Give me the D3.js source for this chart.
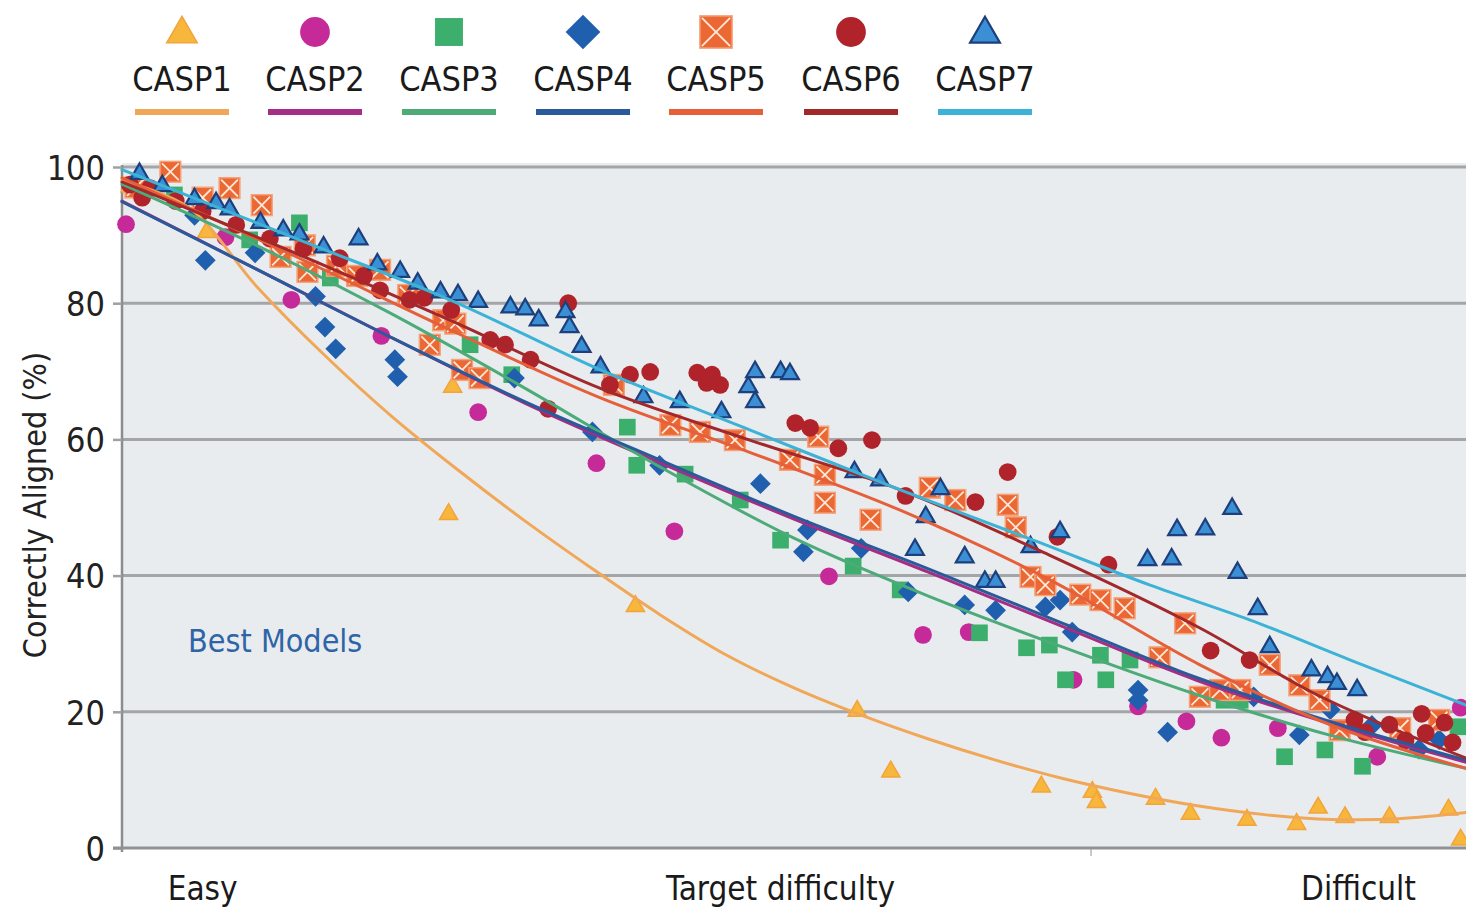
<!DOCTYPE html>
<html><head><meta charset="utf-8">
<script src="https://cdn.jsdelivr.net/npm/d3@7"></script>
<style>
html,body{margin:0;padding:0;background:#fff;}
text{font-family:"Liberation Sans Narrow","DejaVu Sans Condensed",sans-serif;}
</style></head>
<body><svg id="chart" width="1466" height="910"></svg>
<script>
// ---- DATA (x = target difficulty 0..100, y = % correctly aligned) ----
const seriesNames = ["CASP1","CASP2","CASP3","CASP4","CASP5","CASP6","CASP7"];
const yTicks = [0,20,40,60,80,100];
const xLabels = ["Easy","Target difficulty","Difficult"];
const xLabelPos = [6,49,92];

const casp1Points = [[0.6,97.4],[6.3,90.7],[24.6,68],[24.3,49.3],[38.2,35.8],[54.7,20.4],[57.2,11.5],[68.4,9.3],[72.2,8.5],[72.5,7],[76.9,7.5],[79.5,5.3],[83.7,4.4],[87.4,3.8],[89,6.2],[91,4.8],[94.3,4.8],[98.7,5.9],[99.6,1.5]];
const casp2Points = [[0.3,91.6],[7.7,89.7],[12.6,80.5],[19.3,75.2],[26.5,64],[35.3,56.5],[41.1,46.5],[52.6,39.9],[59.6,31.3],[63,31.7],[70.8,24.7],[75.6,20.8],[79.2,18.6],[81.8,16.2],[86,17.6],[93.4,13.4],[99.6,20.6]];
const casp3Points = [[3.9,95.9],[9.5,89.3],[13.2,91.8],[15.5,83.7],[25.9,73.9],[29,69.5],[37.6,61.8],[38.3,56.2],[41.9,54.9],[46,51.1],[49,45.2],[54.4,41.4],[57.9,37.9],[63.8,31.6],[67.3,29.4],[69,29.8],[70.2,24.7],[72.8,28.3],[73.2,24.7],[75,27.6],[82,21.7],[83.2,21.7],[86.5,13.4],[89.5,14.4],[92.3,12],[99.4,17.8]];
const casp4Points = [[5.4,92.9],[6.2,86.3],[9.9,87.4],[14.4,81],[15.1,76.5],[15.9,73.3],[20.3,71.7],[20.5,69.2],[29.2,69],[35,61.1],[40,56.2],[47.5,53.5],[51,46.7],[50.7,43.5],[55,44],[58.5,37.6],[62.7,35.7],[65,34.9],[68.7,35.4],[69.8,36.4],[70.7,31.7],[75.6,23.2],[75.6,21.7],[77.8,17],[84.2,22.2],[87.6,16.6],[89.9,20.3],[93,18],[95.1,16.9],[96.5,14.5],[98,15.9]];
const casp5Points = [[1,97],[3.6,99.3],[6,95.5],[8,96.9],[10.4,94.4],[11.8,86.8],[13.6,88.5],[13.8,84.6],[16,85.5],[17.5,84],[19.2,84.9],[21.3,81.2],[22.9,73.9],[23.9,77.5],[24.8,77],[25.3,70.2],[26.6,69],[36.6,68],[40.8,62.1],[43,61.1],[45.6,59.9],[49.7,57],[51.8,60.4],[52.3,54.8],[52.3,50.7],[55.7,48.2],[60.1,52.9],[62,51.1],[65.9,50.4],[66.5,47.1],[67.6,39.8],[68.7,38.6],[71.3,37.2],[72.8,36.4],[74.6,35.2],[77.2,28],[79.1,33],[80.2,22.2],[81.7,23.2],[83.2,23.2],[85.4,26.9],[87.6,23.9],[89.1,21.7],[90.6,17.3],[95.1,17.6],[98,18.8]];
const casp6Points = [[0.6,97.4],[1.5,95.5],[2.1,96.9],[4,95],[6,93.5],[8.5,91.5],[11,89.5],[13.5,88],[16.2,86.6],[18,84],[19.2,81.9],[21.4,80.5],[22.5,80.8],[24.5,79],[27.4,74.6],[28.5,73.9],[30.4,71.7],[31.7,64.5],[33.2,80],[36.3,68],[37.8,69.5],[39.3,69.9],[42.8,69.8],[43.5,68.3],[43.9,69.5],[44.5,68],[50.1,62.4],[51.2,61.7],[53.3,58.7],[55.8,59.9],[58.3,51.7],[63.5,50.8],[65.9,55.2],[69.6,45.7],[73.4,41.6],[81,29],[83.9,27.6],[91.7,18.8],[92.5,17],[94.3,18.1],[95.5,15.8],[96.7,19.7],[97,16.9],[98.4,18.4],[99,15.5]];
const casp7Points = [[1.3,99.3],[3,97.5],[5.4,95.6],[7,95],[8,94.1],[10.3,92.1],[12,91],[13.2,90.4],[15,88.5],[17.6,89.7],[19,86],[20.7,84.9],[22,83.2],[23.7,81.9],[25,81.5],[26.5,80.5],[28.9,79.7],[30,79.4],[31,77.8],[33,79],[33.3,76.8],[34.2,73.9],[35.6,70.9],[38.8,66.5],[41.5,65.8],[44.6,64.3],[46.6,68],[47.1,65.8],[47.1,70.2],[49,70.2],[49.7,69.9],[54.5,55.5],[56.4,54.3],[59,44.1],[59.8,48.9],[60.9,53],[62.7,43],[64.2,39.4],[65,39.4],[67.6,44.5],[69.8,46.7],[76.3,42.6],[78.1,42.7],[78.5,47],[80.6,47.1],[82.6,50.1],[83,40.7],[84.5,35.4],[85.4,29.8],[88.5,26.4],[89.7,25.4],[90.4,24.4],[91.9,23.5]];

const casp1Trend = [[0,98],[5,94],[10,82.5],[15,72.5],[20,63.5],[25,55.5],[30,48],[35,41],[40,34.3],[45,28.3],[50,23.5],[55,19.5],[60,16],[65,12.9],[70,10.2],[75,8],[80,6.2],[85,4.9],[90,4.2],[95,4.3],[100,5.2]];
const casp2Trend = [[0,95],[10,85],[20,75],[30,65.3],[40,56.6],[50,48.3],[60,40.5],[70,32.5],[80,24.6],[90,18.2],[100,12.6]];
const casp3Trend = [[0,97.5],[10,88.5],[20,78.5],[30,67.5],[40,56],[50,45.5],[60,37],[70,29.5],[80,22.5],[90,16.5],[100,11.7]];
const casp4Trend = [[0,94.9],[10,85],[20,75],[30,65.5],[40,57],[50,48.7],[60,41],[70,33],[80,25],[90,18.5],[100,12.9]];
const casp5Trend = [[0,98.4],[13.2,86.6],[24.4,76.1],[35.6,66.1],[46.7,58.1],[57.9,49.6],[69,39.4],[80.2,26.9],[89.9,18.1],[100,11.7]];
const casp6Trend = [[0,97.8],[13.2,87.1],[24.4,77.5],[35.6,67.5],[46.7,59.9],[57.9,52.6],[69,43],[80.2,32.3],[88.9,22.5],[100,13.2]];
const casp7Trend = [[0,99.6],[13.2,89.3],[24.4,80.5],[35.6,70.2],[46.7,61.4],[57.9,52.6],[67.8,45.2],[76.5,38.6],[83.9,33.5],[91.4,27.6],[100,21]];

// ---- STYLES ----
const markerFill = ["#f6b73c","#c52a98","#3daf6c","#1f5fae","#eb6834","#b0232a","#3b8fd5"];
const markerStroke = ["#f3a43a","#c52a98","#3daf6c","#1f5fae","#f5a37b","#b0232a","#1d3f7c"];
const lineColor = ["#f0a858","#a52d83","#4cab78","#2a5a9a","#e5603a","#a3282b","#3cb3d6"];
const shapes = ["triangle","circle","square","diamond","xsquare","circle","triangleO"];

const pointsAll = [casp1Points,casp2Points,casp3Points,casp4Points,casp5Points,casp6Points,casp7Points];
const trendsAll = [casp1Trend,casp2Trend,casp3Trend,casp4Trend,casp5Trend,casp6Trend,casp7Trend];

const svg = d3.select("#chart");
const x = d3.scaleLinear().domain([0,100]).range([122,1466]);
const y = d3.scaleLinear().domain([0,100]).range([848,167]);

svg.append("rect").attr("x",x(0)).attr("y",y(100)-4).attr("width",x(100)-x(0)).attr("height",y(0)-y(100)+4).attr("fill","#e9ecef");
svg.append("line").attr("x1",x(72.1)).attr("x2",x(72.1)).attr("y1",y(0)).attr("y2",y(0)+8).attr("stroke","#b8b8b8").attr("stroke-width",1.5);

svg.append("g").selectAll("line").data(yTicks.filter(d=>d>0)).join("line")
  .attr("x1",x(0)).attr("x2",x(100)).attr("y1",d=>y(d)).attr("y2",d=>y(d))
  .attr("stroke","#a3a5a8").attr("stroke-width",3);

const yAxis = svg.append("g").attr("transform",`translate(${x(0)},0)`)
  .call(d3.axisLeft(y).tickValues(yTicks).tickSize(9).tickPadding(8).tickFormat(d3.format("d")));
yAxis.select(".domain").attr("stroke","#8c8c8c").attr("stroke-width",2.5).attr("d",`M0,${y(100)-2}V${y(0)+4}`);
yAxis.selectAll(".tick line").attr("stroke","#a0a0a0").attr("stroke-width",2.5);
yAxis.selectAll(".tick text").attr("font-size",34).attr("fill","#222").attr("font-family","'Liberation Sans Narrow',sans-serif").attr("dy","0.36em");
svg.append("line").attr("x1",x(0)-9).attr("x2",x(100)).attr("y1",y(0)).attr("y2",y(0)).attr("stroke","#8f9194").attr("stroke-width",3);

svg.append("text").attr("transform",`translate(46,505) rotate(-90)`).attr("text-anchor","middle")
  .attr("font-size",32).attr("fill","#222").text("Correctly Aligned (%)");

svg.append("g").selectAll("text").data(xLabels).join("text")
  .attr("x",(d,i)=>x(xLabelPos[i])).attr("y",900).attr("text-anchor","middle")
  .attr("font-size",33).attr("fill","#1a1a1a").text(d=>d);

svg.append("text").attr("x",188).attr("y",652).attr("font-size",32).attr("fill","#2f64a6").text("Best Models");

function drawMarker(g, shape, i, s){
  const f = markerFill[i], st = markerStroke[i];
  if(shape==="triangle"){
    g.append("path").attr("d",d3.symbol(d3.symbolTriangle, s*s*0.42)()).attr("transform","translate(0,2)")
      .attr("fill",f).attr("stroke",st).attr("stroke-width",1.5);
  } else if(shape==="triangleO"){
    g.append("path").attr("d",d3.symbol(d3.symbolTriangle, s*s*0.40)()).attr("transform","translate(0,2)")
      .attr("fill",f).attr("stroke",st).attr("stroke-width",2.2);
  } else if(shape==="circle"){
    g.append("circle").attr("r",s*0.48).attr("fill",f);
  } else if(shape==="square"){
    g.append("rect").attr("x",-s*0.45).attr("y",-s*0.45).attr("width",s*0.9).attr("height",s*0.9).attr("fill",f);
  } else if(shape==="diamond"){
    const h=s*0.56;
    g.append("path").attr("d",`M0,${-h}L${h},0L0,${h}L${-h},0Z`).attr("fill",f);
  } else if(shape==="xsquare"){
    const h=s*0.52;
    g.append("rect").attr("x",-h).attr("y",-h).attr("width",2*h).attr("height",2*h).attr("fill",f).attr("stroke",st).attr("stroke-width",1.5);
    g.append("path").attr("d",`M${-h+2},${-h+2}L${h-2},${h-2}M${h-2},${-h+2}L${-h+2},${h-2}`).attr("stroke","#fde8d8").attr("stroke-width",1.8);
  }
}

const ptsG = svg.append("g");
pointsAll.forEach((pts,i)=>{
  const sg = ptsG.append("g");
  pts.forEach(p=>{
    const g = sg.append("g").attr("transform",`translate(${x(p[0])},${y(p[1])})`);
    drawMarker(g, shapes[i], i, i===4?20:18.5);
  });
});

const line = d3.line().x(d=>x(d[0])).y(d=>y(d[1])).curve(d3.curveCatmullRom.alpha(0.5));
const order = [1,0,2,3,4,5,6];
order.forEach(i=>{
  svg.append("path").datum(trendsAll[i]).attr("d",line).attr("fill","none")
    .attr("stroke",lineColor[i]).attr("stroke-width",3).attr("stroke-linecap","round");
});

const legendX = [182,315,449,583,716,851,985];
const lg = svg.append("g");
seriesNames.forEach((name,i)=>{
  const g = lg.append("g").attr("transform",`translate(${legendX[i]},0)`);
  const mg = g.append("g").attr("transform",`translate(0,32)`);
  drawMarker(mg, shapes[i], i, 31);
  g.append("text").attr("x",0).attr("y",91).attr("text-anchor","middle").attr("font-size",34).attr("fill","#1a1a1a").text(name);
  g.append("line").attr("x1",-47).attr("x2",47).attr("y1",112).attr("y2",112).attr("stroke",lineColor[i]).attr("stroke-width",6);
});
</script></body></html>
